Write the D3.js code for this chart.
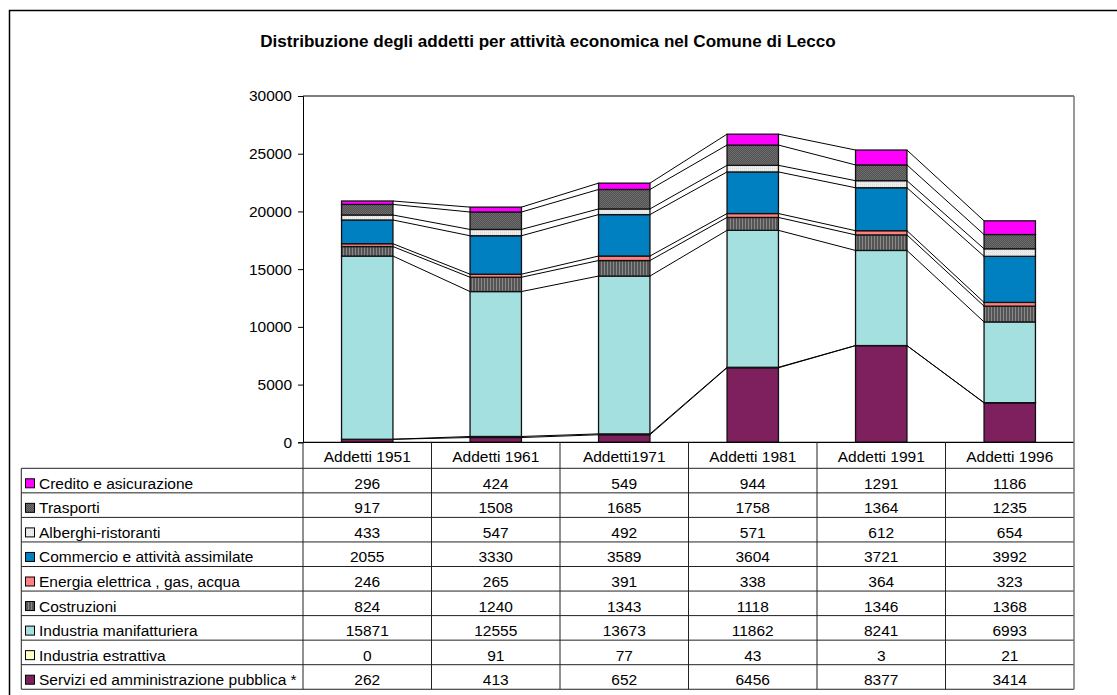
<!DOCTYPE html>
<html>
<head>
<meta charset="utf-8">
<script src="https://cdn.jsdelivr.net/npm/d3@7"></script>
<style>
  body { margin: 0; background: #fff; }
  svg text { font-family: "Liberation Sans", Arial, sans-serif; fill: #000; }
</style>
</head>
<body>
<svg id="chart" width="1117" height="695"></svg>
<script>
// data
var categories = ["Addetti 1951", "Addetti 1961", "Addetti1971", "Addetti 1981", "Addetti 1991", "Addetti 1996"];

var servizi      = [262, 413, 652, 6456, 8377, 3414];
var estrattiva   = [0, 91, 77, 43, 3, 21];
var manifattura  = [15871, 12555, 13673, 11862, 8241, 6993];
var costruzioni  = [824, 1240, 1343, 1118, 1346, 1368];
var energia      = [246, 265, 391, 338, 364, 323];
var commercio    = [2055, 3330, 3589, 3604, 3721, 3992];
var alberghi     = [433, 547, 492, 571, 612, 654];
var trasporti    = [917, 1508, 1685, 1758, 1364, 1235];
var credito      = [296, 424, 549, 944, 1291, 1186];

var yTicks = [0, 5000, 10000, 15000, 20000, 25000, 30000];

// stacking order, bottom to top
var series = [
  {name: "Servizi ed amministrazione pubblica *", values: servizi,     fill: "#7e1f5e"},
  {name: "Industria estrattiva",                  values: estrattiva,  fill: "#ffffc8"},
  {name: "Industria manifatturiera",              values: manifattura, fill: "#a5e0e0"},
  {name: "Costruzioni",                           values: costruzioni, fill: "url(#pCostr)"},
  {name: "Energia elettrica , gas, acqua",        values: energia,     fill: "#ff8080"},
  {name: "Commercio e attività assimilate",       values: commercio,   fill: "#0080c0"},
  {name: "Alberghi-ristoranti",                   values: alberghi,    fill: "url(#pAlb)"},
  {name: "Trasporti",                             values: trasporti,   fill: "url(#pTrasp)"},
  {name: "Credito e asicurazione",                values: credito,     fill: "#ff00ff"}
];

var svg = d3.select("#chart");

// patterns
var defs = svg.append("defs");
var p1 = defs.append("pattern").attr("id", "pCostr").attr("patternUnits", "userSpaceOnUse")
  .attr("width", 3).attr("height", 3);
p1.append("rect").attr("width", 3).attr("height", 3).attr("fill", "#555");
p1.append("rect").attr("x", 1).attr("width", 1).attr("height", 3).attr("fill", "#888");

var p2 = defs.append("pattern").attr("id", "pTrasp").attr("patternUnits", "userSpaceOnUse")
  .attr("width", 2).attr("height", 2);
p2.append("rect").attr("width", 2).attr("height", 2).attr("fill", "#515151");
p2.append("rect").attr("x", 0).attr("y", 0).attr("width", 1).attr("height", 1).attr("fill", "#6e6e6e");
p2.append("rect").attr("x", 1).attr("y", 1).attr("width", 1).attr("height", 1).attr("fill", "#6e6e6e");

var p3 = defs.append("pattern").attr("id", "pAlb").attr("patternUnits", "userSpaceOnUse")
  .attr("width", 2).attr("height", 2);
p3.append("rect").attr("width", 2).attr("height", 2).attr("fill", "#ededed");
p3.append("rect").attr("width", 1).attr("height", 1).attr("fill", "#dcdcdc");

// outer frame (runs off right and bottom of the picture)
svg.append("rect").attr("x", 9.5).attr("y", 10.5).attr("width", 1300).attr("height", 900)
  .attr("fill", "none").attr("stroke", "#000").attr("stroke-width", 1.5);

svg.append("text").attr("x", 548).attr("y", 46.5).attr("text-anchor", "middle")
  .style("font-size", "17.1px").style("font-weight", "bold")
  .text("Distribuzione degli addetti per attività economica nel Comune di Lecco");

var plotL = 303, plotR = 1074, plotT = 96, plotB = 442.3;

var x = d3.scaleBand().domain(categories).range([plotL, plotR]).paddingInner(0.6).paddingOuter(0.3);
var col = d3.scaleBand().domain(categories).range([plotL, plotR]);
var y = d3.scaleLinear().domain([0, 30000]).range([plotB, plotT]);

// plot area border
svg.append("line").attr("x1", plotL).attr("x2", plotR).attr("y1", plotT).attr("y2", plotT)
  .attr("stroke", "#000").attr("stroke-width", 1.2);

// y axis
var yAxis = svg.append("g").attr("transform", "translate(" + plotL + ",0)")
  .call(d3.axisLeft(y).tickValues(yTicks).tickSize(5).tickPadding(6).tickFormat(d3.format("d")));
yAxis.select(".domain").attr("stroke", "#000");
yAxis.selectAll(".tick line").attr("stroke", "#000");
yAxis.selectAll("text").style("font-size", "15.5px").style("font-family", "'Liberation Sans', Arial, sans-serif");

// stack
var rows = categories.map(function(c, i) {
  var r = {cat: c};
  series.forEach(function(s) { r[s.name] = s.values[i]; });
  return r;
});
var stacked = d3.stack().keys(series.map(function(s) { return s.name; }))(rows);

// series lines between bar tops
var lines = svg.append("g");
stacked.forEach(function(layer) {
  for (var i = 0; i < layer.length - 1; i++) {
    lines.append("line")
      .attr("x1", x(categories[i]) + x.bandwidth()).attr("y1", y(layer[i][1]))
      .attr("x2", x(categories[i + 1])).attr("y2", y(layer[i + 1][1]))
      .attr("stroke", "#000").attr("stroke-width", 1);
  }
});

var bars = svg.append("g");
stacked.forEach(function(layer, k) {
  bars.selectAll(null).data(layer).enter().append("rect")
    .attr("x", function(d) { return x(d.data.cat); })
    .attr("y", function(d) { return y(d[1]); })
    .attr("width", x.bandwidth())
    .attr("height", function(d) { return y(d[0]) - y(d[1]); })
    .attr("fill", series[k].fill)
    .attr("stroke", "#111").attr("stroke-width", 1.3);
});

// x axis line
svg.append("line").attr("x1", plotL).attr("x2", plotR).attr("y1", plotB).attr("y2", plotB)
  .attr("stroke", "#000").attr("stroke-width", 1.2);

// data table
var rowH = 24.55, tTop = 468.3, tLeft = 21.3;
var tableRows = series.slice().reverse();
var tBottom = tTop + rowH * tableRows.length;
var grid = svg.append("g").attr("stroke", "#222").attr("stroke-width", 1);

d3.range(tableRows.length + 1).forEach(function(j) {
  grid.append("line").attr("x1", tLeft).attr("x2", plotR)
    .attr("y1", tTop + j * rowH).attr("y2", tTop + j * rowH);
});
grid.append("line").attr("x1", tLeft).attr("x2", tLeft).attr("y1", tTop).attr("y2", tBottom);
categories.forEach(function(c) {
  grid.append("line").attr("x1", col(c)).attr("x2", col(c)).attr("y1", plotB).attr("y2", tBottom);
});
svg.append("line").attr("x1", plotR).attr("x2", plotR).attr("y1", plotT).attr("y2", tBottom)
  .attr("stroke", "#777").attr("stroke-width", 1.5);

svg.selectAll(".hdr").data(categories).enter().append("text")
  .attr("x", function(d) { return col(d) + col.bandwidth() / 2; })
  .attr("y", plotB + 19.4).attr("text-anchor", "middle").style("font-size", "15.5px")
  .text(function(d) { return d; });

tableRows.forEach(function(s, j) {
  var ry = tTop + j * rowH;
  svg.append("rect").attr("x", 25.5).attr("y", ry + 10.5).attr("width", 9).attr("height", 9)
    .attr("fill", s.fill).attr("stroke", "#000").attr("stroke-width", 1);
  svg.append("text").attr("x", 39).attr("y", ry + 20.5).style("font-size", "15.5px").text(s.name);
  svg.selectAll(null).data(s.values).enter().append("text")
    .attr("x", function(d, i) { return col(categories[i]) + col.bandwidth() / 2; })
    .attr("y", ry + 20.5).attr("text-anchor", "middle").style("font-size", "15.5px")
    .text(function(d) { return d; });
});
</script>
</body>
</html>
